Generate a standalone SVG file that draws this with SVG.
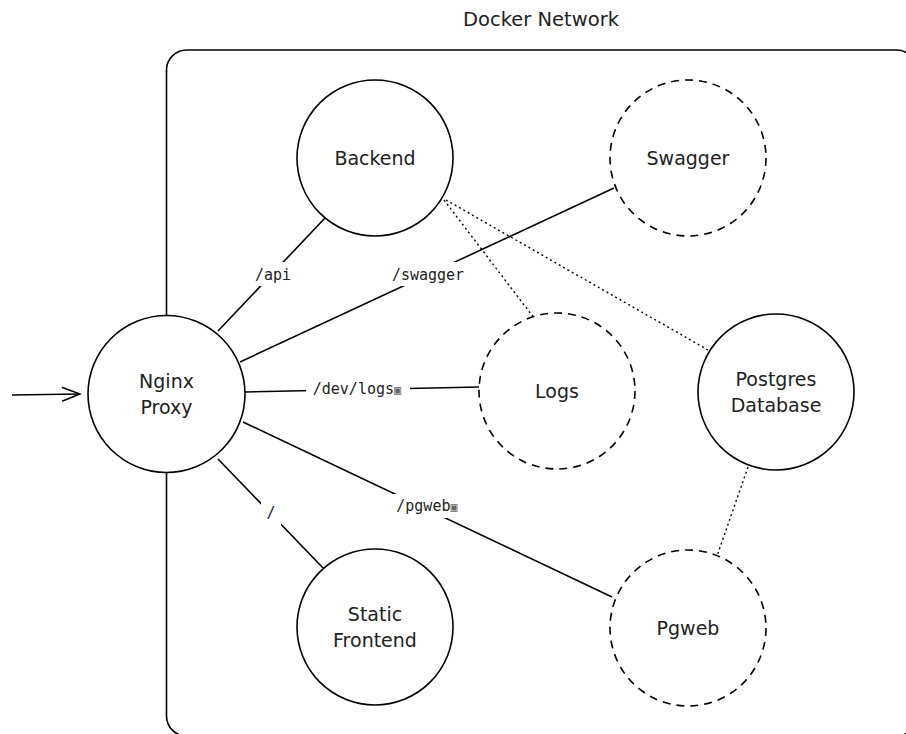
<svg xmlns="http://www.w3.org/2000/svg" width="906" height="734" viewBox="0 0 906 734">
<defs>
<style>
.solid{fill:#fff;stroke:#000;stroke-width:1.6}
.dashed{fill:#fff;stroke:#000;stroke-width:1.6;stroke-dasharray:8 6}
.edge{stroke:#000;stroke-width:1.6;fill:none}
.dot{stroke:#000;stroke-width:1.4;fill:none;stroke-dasharray:2 3}
.lbl{font-family:"DejaVu Sans",sans-serif;font-size:19px;fill:#222;text-anchor:middle}
.elbl{font-family:"DejaVu Sans Mono",monospace;font-size:15px;fill:#222;text-anchor:middle}
.bg{fill:#fff}
.tofu{font-size:12px;fill:#666}
</style>
<marker id="open" markerWidth="22" markerHeight="18" refX="20" refY="9" orient="auto" markerUnits="userSpaceOnUse">
<path d="M2,2 L20,9 L2,16" fill="none" stroke="#000" stroke-width="1.6"/>
</marker>
</defs>
<rect width="906" height="734" fill="#fff"/>
<g id="docker-network">
<rect x="166.5" y="50" width="750" height="686" rx="20" fill="none" stroke="#000" stroke-width="1.6"/>
<text class="lbl" x="541" y="26" style="font-size:19.5px">Docker Network</text>
</g>
<g id="connectors">
<line class="edge" x1="12" y1="395" x2="80" y2="394" marker-end="url(#open)"/>
<line class="edge" x1="218" y1="331" x2="325" y2="218"/>
<line class="edge" x1="240" y1="362" x2="614" y2="188"/>
<line class="edge" x1="245" y1="392" x2="479" y2="387"/>
<line class="edge" x1="243" y1="422" x2="612" y2="597"/>
<line class="edge" x1="218" y1="459" x2="325" y2="570"/>
<line class="dot" x1="441" y1="196" x2="534" y2="318"/>
<line class="dot" x1="446" y1="200" x2="708" y2="350"/>
<line class="dot" x1="748" y1="467" x2="717" y2="556"/>
<rect class="bg" x="248" y="262" width="50" height="24"/>
<text class="elbl" x="273" y="280">/api</text>
<rect class="bg" x="388" y="262" width="80" height="24"/>
<text class="elbl" x="428" y="280">/swagger</text>
<rect class="bg" x="306" y="377" width="104" height="24"/>
<text class="elbl" x="357" y="394">/dev/logs<tspan class="tofu">▣</tspan></text>
<rect class="bg" x="261" y="500" width="20" height="26"/>
<text class="elbl" x="271" y="518">/</text>
<rect class="bg" x="390" y="494" width="76" height="24"/>
<text class="elbl" x="427" y="511">/pgweb<tspan class="tofu">▣</tspan></text>
</g>
<g id="nginx">
<circle class="solid" cx="166.5" cy="394" r="78.5"/>
<text class="lbl" x="166.5" y="388">Nginx</text>
<text class="lbl" x="166.5" y="414">Proxy</text>
</g>
<g id="backend">
<circle class="solid" cx="375" cy="158" r="78"/>
<text class="lbl" x="375" y="165">Backend</text>
</g>
<g id="swagger">
<circle class="dashed" cx="688" cy="158" r="78"/>
<text class="lbl" x="688" y="165">Swagger</text>
</g>
<g id="logs">
<circle class="dashed" cx="557" cy="391" r="78"/>
<text class="lbl" x="557" y="398">Logs</text>
</g>
<g id="postgres">
<circle class="solid" cx="776" cy="392" r="78"/>
<text class="lbl" x="776" y="386">Postgres</text>
<text class="lbl" x="776" y="412">Database</text>
</g>
<g id="static-frontend">
<circle class="solid" cx="375" cy="627" r="78"/>
<text class="lbl" x="375" y="621">Static</text>
<text class="lbl" x="375" y="647">Frontend</text>
</g>
<g id="pgweb">
<circle class="dashed" cx="688" cy="628" r="78"/>
<text class="lbl" x="688" y="635">Pgweb</text>
</g>
</svg>
